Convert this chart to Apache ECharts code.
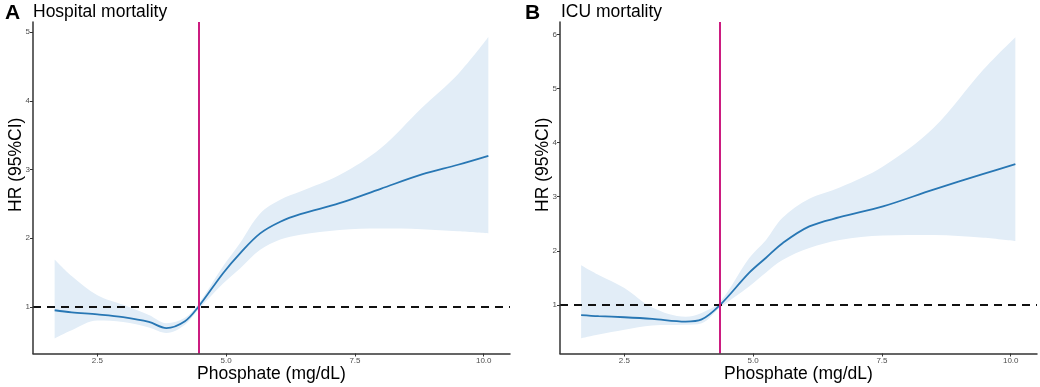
<!DOCTYPE html>
<html>
<head>
<meta charset="utf-8">
<script src="https://cdn.jsdelivr.net/npm/echarts@6/dist/echarts.min.js"></script>
<style>
  html, body { margin: 0; padding: 0; background: #fff; }
  #hrChart { width: 1040px; height: 387px; }
</style>
</head>
<body>
<div id="hrChart"></div>
<script>
// panel A - hospital mortality
const phosA = [1.67, 2.0, 2.5, 3.0, 3.5, 3.84, 4.2, 4.46, 4.94, 5.27, 5.66, 6.05, 6.44, 7.2, 8.0, 8.8, 9.5, 10.09];
const hrA = [0.95, 0.92, 0.89, 0.85, 0.78, 0.69, 0.79, 1.0, 1.49, 1.78, 2.07, 2.24, 2.35, 2.51, 2.72, 2.93, 3.07, 3.20];
const lowA = [0.54, 0.66, 0.80, 0.78, 0.70, 0.62, 0.74, 0.96, 1.34, 1.56, 1.83, 1.98, 2.05, 2.12, 2.14, 2.13, 2.10, 2.07];
const upA = [1.69, 1.45, 1.17, 1.03, 0.88, 0.76, 0.84, 1.04, 1.59, 1.93, 2.36, 2.56, 2.68, 2.92, 3.31, 3.90, 4.39, 4.93];

// panel B - ICU mortality
const phosB = [1.66, 2.0, 2.5, 3.04, 3.69, 4.0, 4.36, 4.92, 5.25, 5.57, 6.09, 6.68, 7.52, 8.5, 9.47, 10.09];
const hrB = [0.81, 0.79, 0.77, 0.74, 0.69, 0.73, 1.0, 1.59, 1.87, 2.14, 2.45, 2.62, 2.82, 3.13, 3.42, 3.60];
const lowB = [0.38, 0.45, 0.54, 0.62, 0.63, 0.66, 0.95, 1.34, 1.60, 1.83, 2.05, 2.20, 2.28, 2.29, 2.24, 2.18];
const upB = [1.73, 1.55, 1.31, 0.95, 0.78, 0.85, 1.06, 1.86, 2.20, 2.61, 2.96, 3.17, 3.56, 4.27, 5.35, 5.95];

const xTicks = [2.5, 5.0, 7.5, 10.0];
const yTicksA = [1, 2, 3, 4, 5];
const yTicksB = [1, 2, 3, 4, 5, 6];
const refHR = 1;
const cutA = 4.46;
const cutB = 4.36;

const hrChart = echarts.init(document.getElementById('hrChart'));

const FONT = 'Liberation Sans';
const lineColor = '#2877b4';
const bandColor = '#e2edf7';
const cutColor = '#cc1c80';
const SMOOTH = 0.35;

function xAxisOf(gridIndex) {
    return {
        type: 'value',
        gridIndex: gridIndex,
        min: 1.25,
        max: 10.51,
        z: 5,
        name: 'Phosphate (mg/dL)',
        nameLocation: 'middle',
        nameGap: 12,
        nameMoveOverlap: false,
        nameTextStyle: { fontFamily: FONT, fontSize: 17.5, color: '#000' },
        splitLine: { show: false },
        axisLine: { lineStyle: { color: '#333', width: 1.5 } },
        axisTick: { customValues: xTicks, length: 3, lineStyle: { color: '#333' } },
        axisLabel: {
            customValues: xTicks,
            fontFamily: FONT, fontSize: 8, color: '#4d4d4d', margin: 3,
            formatter: (v) => v.toFixed(1)
        }
    };
}

function yAxisOf(gridIndex, min, max, ticks) {
    return {
        type: 'value',
        gridIndex: gridIndex,
        min: min,
        max: max,
        z: 5,
        name: 'HR (95%CI)',
        nameLocation: 'middle',
        nameRotate: 90,
        nameGap: 8,
        nameMoveOverlap: false,
        // ggplot title sits a bit above the panel centre
        nameTextStyle: { fontFamily: FONT, fontSize: 17.5, color: '#000', padding: [0, 0, 0, 46] },
        splitLine: { show: false },
        axisLine: { show: true, lineStyle: { color: '#333', width: 1.5 } },
        axisTick: { show: true, customValues: ticks, length: 3, lineStyle: { color: '#333' } },
        axisLabel: { customValues: ticks, fontFamily: FONT, fontSize: 8, color: '#4d4d4d', margin: 3 }
    };
}

// band: lower edge + (upper - lower) stacked; columns are [hr, phosphate] so the stack goes on y
function bandSeries(idx, xs, low, up) {
    const stackName = 'ci' + idx;
    return [
        {
            type: 'line', xAxisIndex: idx, yAxisIndex: idx, stack: stackName,
            encode: { x: 1, y: 0 },
            data: xs.map((x, i) => [low[i], x]),
            symbol: 'none', smooth: SMOOTH, silent: true,
            lineStyle: { opacity: 0 }, z: 1
        },
        {
            type: 'line', xAxisIndex: idx, yAxisIndex: idx, stack: stackName,
            encode: { x: 1, y: 0 },
            data: xs.map((x, i) => [up[i] - low[i], x]),
            symbol: 'none', smooth: SMOOTH, silent: true,
            lineStyle: { opacity: 0 },
            areaStyle: { color: bandColor, opacity: 1 }, z: 1
        }
    ];
}

function curveSeries(idx, xs, hr) {
    return {
        type: 'line', xAxisIndex: idx, yAxisIndex: idx,
        data: xs.map((x, i) => [x, hr[i]]),
        symbol: 'none', smooth: SMOOTH, silent: true,
        lineStyle: { color: lineColor, width: 1.8 }, z: 3
    };
}

function refSeries(idx, cut) {
    return {
        type: 'line', xAxisIndex: idx, yAxisIndex: idx, data: [], z: 4,
        markLine: {
            silent: true, symbol: 'none', animation: false,
            label: { show: false },
            data: [
                { yAxis: refHR, lineStyle: { color: '#111', width: 2, type: [8, 6] } },
                { xAxis: cut, lineStyle: { color: cutColor, width: 2, type: 'solid' } }
            ]
        }
    };
}

function defineHrOption() {
    return {
        animation: false,
        title: [
            { text: 'A', left: 5, top: 3, padding: 0, textStyle: { fontFamily: FONT, fontSize: 21, fontWeight: 'bold', color: '#000' } },
            { text: 'Hospital mortality', left: 33, top: 3, padding: 0, textStyle: { fontFamily: FONT, fontSize: 17.5, fontWeight: 'normal', color: '#000' } },
            { text: 'B', left: 525, top: 3, padding: 0, textStyle: { fontFamily: FONT, fontSize: 21, fontWeight: 'bold', color: '#000' } },
            { text: 'ICU mortality', left: 561, top: 3, padding: 0, textStyle: { fontFamily: FONT, fontSize: 17.5, fontWeight: 'normal', color: '#000' } }
        ],
        grid: [
            { left: 33, right: 530, top: 22, bottom: 33.5, outerBoundsMode: 'none' },
            { left: 560, right: 3, top: 22, bottom: 33.5, outerBoundsMode: 'none' }
        ],
        xAxis: [xAxisOf(0), xAxisOf(1)],
        yAxis: [yAxisOf(0, 0.32, 5.15, yTicksA), yAxisOf(1, 0.10, 6.23, yTicksB)],
        series: [].concat(
            bandSeries(0, phosA, lowA, upA),
            bandSeries(1, phosB, lowB, upB),
            [curveSeries(0, phosA, hrA), curveSeries(1, phosB, hrB),
             refSeries(0, cutA), refSeries(1, cutB)]
        )
    };
}

hrChart.setOption(defineHrOption());
</script>
</body>
</html>
